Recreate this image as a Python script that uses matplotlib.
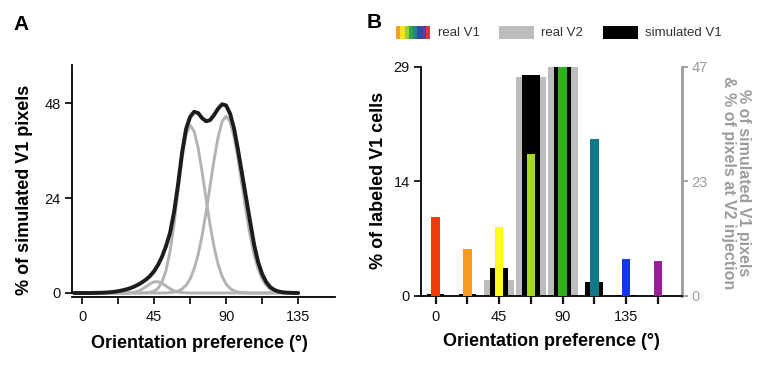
import numpy as np
import matplotlib
matplotlib.use('Agg')
import matplotlib.pyplot as plt
from matplotlib.patches import Rectangle

plt.rcParams['font.family'] = ['Liberation Sans', 'DejaVu Sans']

# ---- panel A: fitted curves, % of simulated V1 pixels, read every 2.5 deg ----
angles_a = np.arange(-5, 135.1, 2.5)
sim_total = [0, 0, 0, 0, 0, 0.02, 0.04, 0.07, 0.12, 0.2,
             0.3, 0.45, 0.65, 0.9, 1.2, 1.6, 2.1, 2.7, 3.4, 4.3,
             5.5, 7.1, 9.2, 11.9, 15.2, 20.5, 27.5, 35.5, 41.5, 44.5,
             45.8, 45.5, 44.2, 43.4, 43.7, 45.0, 46.6, 47.7, 47.4, 45.3,
             41.5, 36.0, 30.0, 24.0, 18.0, 12.2, 7.8, 4.8, 2.8, 1.5,
             0.8, 0.4, 0.2, 0.1, 0.05, 0.02, 0]
fit_45 = [0] * 10 + \
         [0, 0, 0, 0, 0.07, 0.19, 0.46, 0.94, 1.61, 2.32,
          2.81, 2.86, 2.45, 1.76, 1.07, 0.54, 0.23, 0.09, 0.03, 0] + [0] * 27
fit_675 = [0] * 10 + \
          [0, 0, 0, 0, 0, 0, 0, 0.01, 0.05, 0.16,
           0.47, 1.21, 2.79, 5.74, 10.6, 17.4, 25.7, 34.0, 40.1, 42.4,
           40.9, 36.7, 30.6, 23.8, 17.2, 11.6, 7.22, 4.2, 2.27, 1.14,
           0.54, 0.23, 0.1, 0.04, 0, 0, 0, 0, 0, 0] + [0] * 7
fit_90 = [0] * 20 + \
         [0, 0, 0, 0, 0.1, 0.23, 0.5, 1.02, 1.96, 3.56,
          6.05, 9.67, 14.5, 20.5, 27.1, 33.7, 39.4, 43.3, 44.7, 43.3,
          39.4, 33.7, 27.1, 20.5, 14.5, 9.67, 6.05, 3.56, 1.96, 1.02,
          0.5, 0.23, 0.1, 0.04, 0, 0, 0]

# ---- panel B: orientation histograms ----
orientations = [0, 22.5, 45, 67.5, 90, 112.5, 135, 157.5]
real_v1 = [10.0, 5.9, 8.7, 17.9, 29.0, 19.9, 4.7, 4.4]   # % labeled V1 cells (left axis)
real_v2 = [0, 0, 3.2, 44.8, 47.0, 0, 0, 0]              # % pixels at V2 injection (right axis)
sim_v1 = [0.3, 0.4, 5.6, 45.2, 47.0, 2.9, 0.2, 0]       # % simulated V1 pixels (right axis)
v1_colors = ['#f03c0c', '#f99a1c', '#ffff10', '#a6d81e',
             '#2db31a', '#0d7a88', '#1438e0', '#9a1e9a']
rainbow = ['#f2a02a', '#f4e21c', '#9bcf3a', '#2fa640',
           '#1f8a7a', '#2c4ea8', '#5a3c9c', '#e0343c']

W, H = 780, 366
fig = plt.figure(figsize=(W / 100, H / 100), dpi=100)


def rect(l, t, r, b):
    # pixel box (image coords) -> figure fraction
    return [l / W, 1 - b / H, (r - l) / W, (b - t) / H]


TICK_KW = dict(labelsize=10.5, length=5, width=1.3, pad=3, colors='#111111')
GRAY = '#9c9c9c'

# ---------------- panel A ----------------
ax_a = fig.add_axes(rect(72, 65.5, 335, 293))
for curve in (fit_45, fit_675, fit_90):
    ax_a.plot(angles_a, curve, color='#b3b3b3', lw=2.1, clip_on=False,
              solid_capstyle='round', zorder=2)
ax_a.plot(angles_a, sim_total, color='#1c1c1c', lw=2.8, clip_on=False,
          solid_capstyle='round', zorder=3)
ax_a.set_xlim(-6.25, 158)
ax_a.set_ylim(0, 57.5)
ax_a.spines[['top', 'right']].set_visible(False)
ax_a.spines['bottom'].set_position(('outward', 2.9))
for s in ('left', 'bottom'):
    ax_a.spines[s].set_linewidth(1.3)
ax_a.set_yticks([0, 24, 48])
ax_a.set_xticks([0, 45, 90, 135])
ax_a.set_xticks([22.5, 67.5, 112.5], minor=True)
ax_a.tick_params(axis='both', which='both', **TICK_KW)
ax_a.tick_params(axis='x', which='both', pad=4)
ax_a.set_xlabel('Orientation preference (°)', fontsize=13, fontweight='bold')
ax_a.xaxis.set_label_coords(0.483, -0.185)
ax_a.set_ylabel('% of simulated V1 pixels', fontsize=13, fontweight='bold')
ax_a.yaxis.set_label_coords(-0.148, 0.453)

# ---------------- panel B ----------------
ax_b = fig.add_axes(rect(421, 66.7, 682, 295.7))
ax_b2 = ax_b.twinx()
ax_b2.bar(orientations, real_v2, width=21.3, color='#bdbdbd', zorder=1)
ax_b2.bar(orientations, sim_v1, width=12.5, color='black', zorder=2)
ax_b.bar(orientations, real_v1, width=6, color=v1_colors, zorder=3)
ax_b.set_zorder(ax_b2.get_zorder() + 1)
ax_b.patch.set_visible(False)

ax_b.set_xlim(-10.4, 174.7)
ax_b.set_ylim(0, 29)
ax_b2.set_ylim(0, 47)
ax_b.spines[['top', 'right']].set_visible(False)
ax_b2.spines[['top', 'left', 'bottom']].set_visible(False)
for s in ('left', 'bottom'):
    ax_b.spines[s].set_linewidth(1.3)
ax_b2.spines['right'].set_color(GRAY)
ax_b2.spines['right'].set_linewidth(2)

ax_b.set_yticks([0, 14.5, 29], labels=['0', '14', '29'])
ax_b2.set_yticks([0, 23.5, 47], labels=['0', '23', '47'])
ax_b.set_xticks(orientations, labels=['0', '', '45', '', '90', '', '135', ''])
ax_b.tick_params(axis='both', **TICK_KW)
ax_b.tick_params(axis='x', length=6, width=1.6, pad=4)
ax_b2.tick_params(axis='y', labelsize=10.5, length=4, width=1.3, pad=3,
                  colors=GRAY)

ax_b.set_xlabel('Orientation preference (°)', fontsize=13, fontweight='bold')
ax_b.xaxis.set_label_coords(0.5, -0.163)
ax_b.set_ylabel('% of labeled V1 cells', fontsize=13, fontweight='bold')
ax_b.yaxis.set_label_coords(-0.13, 0.505)
ax_b2.set_ylabel('% of simulated V1 pixels\n& % of pixels at V2 injection',
                 fontsize=11.5, fontweight='bold', color=GRAY, rotation=270,
                 ha='center', va='center', multialignment='center',
                 linespacing=1.05)
ax_b2.yaxis.set_label_coords(1.207, 0.492)

# ---------------- legend for B ----------------
def add_box(x0, x1, color):
    fig.add_artist(Rectangle((x0 / W, 1 - 39 / H), (x1 - x0) / W, 13 / H,
                             transform=fig.transFigure, color=color, lw=0))


step = (430 - 396) / len(rainbow)
for i, c in enumerate(rainbow):
    add_box(396 + i * step, 396 + (i + 1) * step + 0.3, c)
add_box(499, 534, '#bdbdbd')
add_box(603, 638, 'black')
for x, txt in [(438, 'real V1'), (541, 'real V2'), (645, 'simulated V1')]:
    fig.text(x / W, 1 - 32.5 / H, txt, fontsize=9.5, color='#333333', va='center')

# panel letters
fig.text(13 / W, 1 - 30 / H, 'A', fontsize=15, fontweight='bold')
fig.text(367 / W, 1 - 28 / H, 'B', fontsize=15, fontweight='bold')

fig.savefig('out.png', dpi=100)
